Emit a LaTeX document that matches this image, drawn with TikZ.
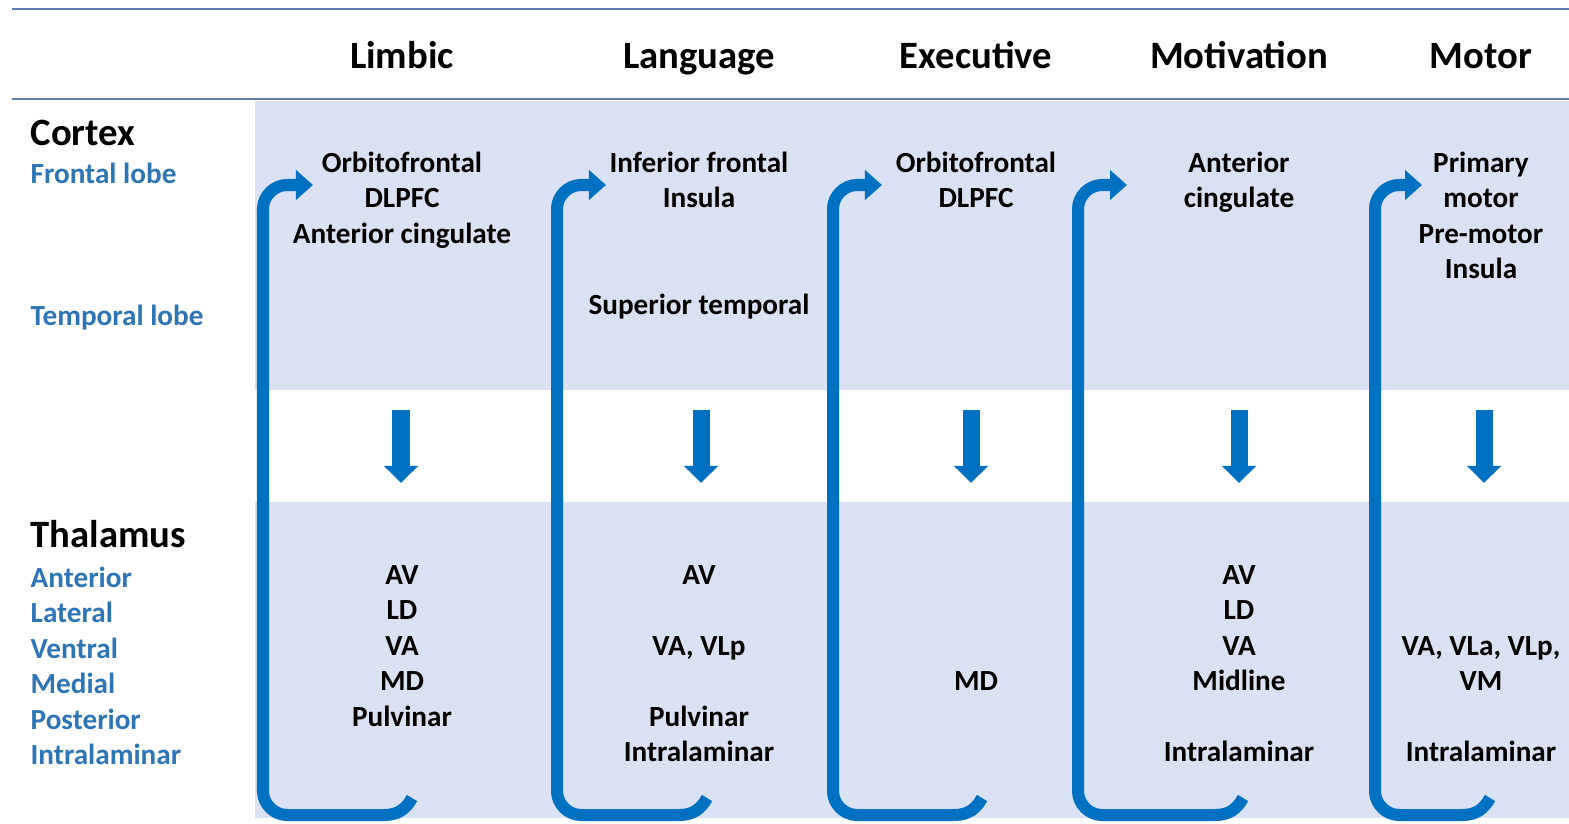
\documentclass[tikz,border=0pt]{standalone}
\usepackage{fontspec}
\setmainfont{Carlito}
\usetikzlibrary{arrows.meta}

\definecolor{bandblue}{RGB}{217,225,242}
\definecolor{loopblue}{RGB}{0,112,192}
\definecolor{labelblue}{RGB}{46,117,182}
\definecolor{rulegray}{RGB}{91,125,177}

\tikzset{
  hdr/.style={font=\fontsize{11}{13}\selectfont\bfseries, inner sep=0pt, anchor=base},
  rowhdr/.style={hdr, anchor=base west},
  cell/.style={font=\fontsize{8.3}{10}\selectfont\bfseries, inner sep=0pt, anchor=base},
  side/.style={cell, anchor=base west, text=labelblue},
  rule/.style={draw=rulegray, line width=0.025cm},
  loopline/.style={draw=loopblue, line width=0.12cm,
    -{Triangle[width=0.29cm,length=0.17cm]}},
  downarrow/.style={draw=loopblue, line width=0.17cm,
    -{Triangle[width=0.33cm,length=0.17cm]}}
}

\begin{document}
\begin{tikzpicture}[x=0.01cm, y=-0.01cm]
    \useasboundingbox (0,0) rectangle (1569,824);

    % Shaded bands
    \fill[bandblue] (255,101) rectangle (1569,390);
    \fill[bandblue] (255,502) rectangle (1569,818);

    % Rules
    \draw[rule] (12,9) -- (1569,9);
    \draw[rule] (12,99) -- (1569,99);

    % Column headings
    \node[hdr] (limbic) at (402,68) {Limbic};
    \node[hdr] (language) at (699,68) {Language};
    \node[hdr] (executive) at (976,68) {Executive};
    \node[hdr] (motivation) at (1239,68) {Motivation};
    \node[hdr] (motor) at (1481,68) {Motor};

    % Row headings
    \node[rowhdr] (cortex) at (30,145) {Cortex};
    \node[side] (frontal) at (30,183) {Frontal lobe};
    \node[side] (temporal) at (30,325) {Temporal lobe};
    \node[rowhdr] (thalamus) at (30,547) {Thalamus};
    \foreach \y/\txt [count=\i] in {587/Anterior, 622.5/Lateral, 658/Ventral,
        693.5/Medial, 729/Posterior, 764/Intralaminar}
        \node[side] (nucleus\i) at (30,\y) {\txt};

    % Loops
    \foreach \lx/\tx/\ex in {263/313/412, 557/606/707, 833/882/982,
        1078/1127/1243, 1375/1422/1490}
        \draw[loopline] (\ex,798) .. controls (\ex-6,809) and (\ex-14,815) .. (\ex-28,815)
            -- (\lx+24,815) .. controls (\lx+11,815) and (\lx,804) .. (\lx,791)
            -- (\lx,209) .. controls (\lx,196) and (\lx+11,185) .. (\lx+24,185) -- (\tx,185);

    % Down arrows
    \foreach \x in {401,701,971,1239,1484}
        \draw[downarrow] (\x,410) -- (\x,483);

    % Limbic
    \foreach \y/\txt [count=\i] in {172/Orbitofrontal, 207.5/DLPFC, 243/Anterior cingulate}
        \node[cell] (limctx\i) at (402,\y) {\txt};
    \foreach \y/\txt [count=\i] in {584/AV, 619.5/LD, 655/VA, 690.5/MD, 726/Pulvinar}
        \node[cell] (limthal\i) at (402,\y) {\txt};

    % Language
    \foreach \y/\txt [count=\i] in {172/Inferior frontal, 207.5/Insula, 314/Superior temporal}
        \node[cell] (lanctx\i) at (699,\y) {\txt};
    \foreach \y/\txt [count=\i] in {584/AV, 655/{VA, VLp}, 726/Pulvinar, 761.5/Intralaminar}
        \node[cell] (lanthal\i) at (699,\y) {\txt};

    % Executive
    \foreach \y/\txt [count=\i] in {172/Orbitofrontal, 207.5/DLPFC}
        \node[cell] (exectx\i) at (976,\y) {\txt};
    \node[cell] (exethal1) at (976,690.5) {MD};

    % Motivation
    \foreach \y/\txt [count=\i] in {172/Anterior, 207.5/cingulate}
        \node[cell] (motivctx\i) at (1239,\y) {\txt};
    \foreach \y/\txt [count=\i] in {584/AV, 619.5/LD, 655/VA, 690.5/Midline, 761.5/Intralaminar}
        \node[cell] (motivthal\i) at (1239,\y) {\txt};

    % Motor
    \foreach \y/\txt [count=\i] in {172/Primary, 207.5/motor, 243/Pre-motor, 278.5/Insula}
        \node[cell] (motctx\i) at (1481,\y) {\txt};
    \foreach \y/\txt [count=\i] in {655/{VA, VLa, VLp,}, 690.5/VM, 761.5/Intralaminar}
        \node[cell] (motthal\i) at (1481,\y) {\txt};

\end{tikzpicture}
\end{document}
